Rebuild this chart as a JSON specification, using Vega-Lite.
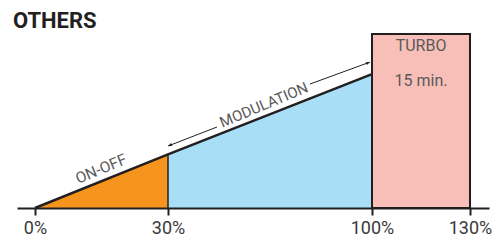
{
  "$schema": "https://vega.github.io/schema/vega-lite/v6.json",
  "width": 472,
  "height": 174,
  "autosize": "none",
  "padding": {"left": 17, "top": 34, "right": 11, "bottom": 32},
  "background": "white",
  "config": {"view": {"stroke": null}, "font": "Roboto"},
  "title": {"text": "OTHERS", "anchor": "start", "frame": "group", "fontSize": 22, "fontWeight": "bold", "color": "#231f20", "dx": -4, "dy": 24, "baseline": "alphabetic", "offset": 7, "font": "Roboto"},
  "datasets": {
    "onoff": [{"pct": 0, "power": 0}, {"pct": 30, "power": 40}],
    "modulation": [{"pct": 30, "power": 40}, {"pct": 100, "power": 100}],
    "curve": [{"pct": 0, "power": 0}, {"pct": 30, "power": 40}, {"pct": 100, "power": 100}],
    "turbo": [{"start": 100, "end": 130, "power": 130}],
    "arrow": [{"x1": 30, "y1": 46.3, "x2": 46.8, "y2": 60.5}, {"x1": 78.7, "y1": 92.6, "x2": 99.3, "y2": 109}],
    "heads": [{"pct": 30, "power": 46.3, "dir": "left"}, {"pct": 99.3, "power": 109, "dir": "right"}],
    "labels": [
      {"pct": 14.9, "power": 29.1, "label": "ON-OFF", "angle": 337.4, "size": 15.5},
      {"pct": 62.9, "power": 77, "label": "MODULATION", "angle": 337.4, "size": 15},
      {"pct": 115, "power": 121, "label": "TURBO", "angle": 0, "size": 16},
      {"pct": 115, "power": 94.9, "label": "15 min.", "angle": 0, "size": 16}
    ]
  },
  "encoding": {
    "x": {"field": "pct", "type": "quantitative", "scale": {"domain": [-4.06, 0, 30, 100, 130, 135.8], "range": [0, 18, 151, 355, 453, 472], "nice": false, "zero": false}, "axis": {"values": [0, 30, 100, 130], "labelExpr": "datum.value + '%'", "title": null, "grid": false, "domainColor": "#231f20", "domainWidth": 2, "tickColor": "#231f20", "tickWidth": 2, "tickSize": 7, "labelFontSize": 18, "labelColor": "#3a3a3a", "labelFont": "Roboto", "labelFontWeight": "normal", "labelPadding": 4, "zindex": 1}},
    "y": {"field": "power", "type": "quantitative", "scale": {"domain": [0, 130], "nice": false}, "axis": null}
  },
  "layer": [
    {"data": {"name": "onoff"}, "mark": {"type": "area", "color": "#f7941d"}},
    {"data": {"name": "modulation"}, "mark": {"type": "area", "color": "#a8dff7"}},
    {"data": {"name": "turbo"}, "mark": {"type": "rect", "fill": "#f8bfb9", "stroke": "#231f20", "strokeWidth": 2},
     "encoding": {"x": {"field": "start", "type": "quantitative"}, "x2": {"field": "end"}, "y": {"field": "power", "type": "quantitative"}, "y2": {"datum": 0}}},
    {"data": {"values": [{"pct": 30, "power": 40}]}, "mark": {"type": "rule", "color": "#231f20", "strokeWidth": 1.5},
     "encoding": {"y2": {"datum": 0}}},
    {"data": {"name": "curve"}, "mark": {"type": "line", "color": "#231f20", "strokeWidth": 2.5}},
    {"data": {"name": "arrow"}, "mark": {"type": "rule", "color": "#231f20", "strokeWidth": 1},
     "encoding": {"x": {"field": "x1", "type": "quantitative"}, "x2": {"field": "x2"}, "y": {"field": "y1", "type": "quantitative"}, "y2": {"field": "y2"}}},
    {"data": {"name": "heads"}, "transform": [{"filter": "datum.dir == 'right'"}], "mark": {"type": "point", "filled": true, "color": "#231f20", "opacity": 1, "shape": "M0,0L-1,-0.4L-1,0.4Z", "size": 64, "angle": 337.4}},
    {"data": {"name": "heads"}, "transform": [{"filter": "datum.dir == 'left'"}], "mark": {"type": "point", "filled": true, "color": "#231f20", "opacity": 1, "shape": "M0,0L1,-0.4L1,0.4Z", "size": 64, "angle": 337.4}},
    {"data": {"name": "labels"}, "mark": {"type": "text", "font": "Roboto", "fontWeight": "normal", "color": "#58595b", "baseline": "middle", "align": "center"},
     "encoding": {"text": {"field": "label"}, "size": {"field": "size", "type": "quantitative", "scale": null}, "angle": {"field": "angle", "type": "quantitative", "scale": null}}}
  ]
}
